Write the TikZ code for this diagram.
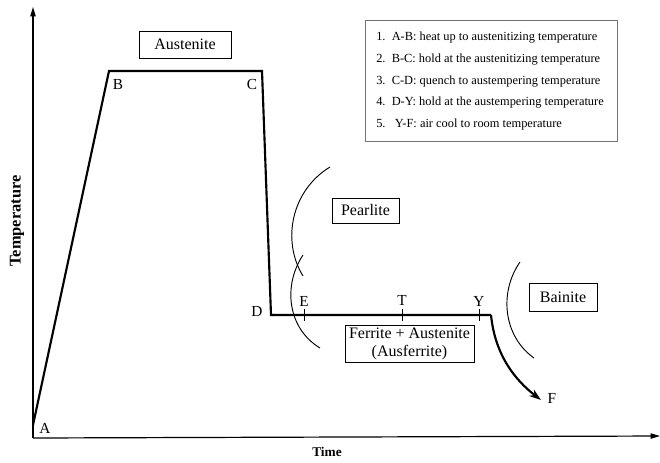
\documentclass[tikz,border=0pt]{standalone}
\usepackage{fontspec}
\setmainfont{Liberation Serif}
\usetikzlibrary{arrows.meta}
\begin{document}
\begin{tikzpicture}[x=0.75pt,y=-0.75pt,
  curve/.style={line width=1.6pt,line join=miter},
  axis/.style={line width=0.9pt,-{Triangle[length=7pt,width=4pt]}},
  arc/.style={line width=0.7pt},
  tick/.style={line width=0.5pt},
  phase/.style={draw,line width=0.6pt,font=\fontsize{12}{13.5}\selectfont,inner sep=0pt,align=center},
  pt/.style={font=\fontsize{11.5}{13}\selectfont,inner sep=0pt},
  legendline/.style={font=\fontsize{9.3}{11}\selectfont,anchor=west,inner sep=0pt}]
\useasboundingbox (0,0) rectangle (660,462);
% axes
\coordinate (O) at (33,438);
\coordinate (Ytop) at (33,7);
\coordinate (Xend) at (660,436);
\draw[axis] (O) -- (Ytop);
\draw[axis] (O) -- (Xend);
\node[font=\bfseries\fontsize{12.3}{14}\selectfont,rotate=90] (tlab) at (17,221) {Temperature};
\node[font=\bfseries\fontsize{10}{12}\selectfont] (timelab) at (327,452) {Time};
% path points
\coordinate (A) at (33,425);
\coordinate (B) at (109,71);
\coordinate (C) at (262,71);
\coordinate (D) at (271,315);
\coordinate (Yc) at (491,315);
\coordinate (F) at (541,400);
\draw[curve] (A) -- (B) -- (C) -- (D) -- (Yc);
\draw[line width=1.6pt,-{Stealth[length=9pt,width=6pt]}] (Yc) .. controls (495,355) and (515,380) .. (F);
% ticks
\coordinate (E) at (304,315);
\coordinate (T) at (402,315);
\coordinate (Y) at (479,315);
\foreach \p in {E,T,Y} \draw[tick] ([yshift=4.5pt]\p) -- ([yshift=-4.5pt]\p);
% point labels
\node[pt] (lA) at (45,428) {A};
\node[pt] (lB) at (118,84) {B};
\node[pt] (lC) at (252,84) {C};
\node[pt] (lD) at (257,311) {D};
\node[pt] (lE) at (304,301) {E};
\node[pt] (lT) at (402,300) {T};
\node[pt] (lY) at (479,301) {Y};
\node[pt] (lF) at (552,398) {F};
% phase boundaries
\draw[arc] (330,167) .. controls (292,190) and (281,240) .. (303,276);
\draw[arc] (303,255) .. controls (283,285) and (287,328) .. (320,348);
\draw[arc] (520,262) .. controls (499,292) and (503,336) .. (534,358);
% phase boxes
\node[phase,minimum width=69pt,minimum height=20.25pt] (aus) at (185,44.5) {Austenite};
\node[phase,minimum width=50.25pt,minimum height=18.75pt] (pear) at (365.5,210.5) {Pearlite};
\node[phase,minimum width=51pt,minimum height=21pt] (bain) at (563,297) {Bainite};
\node[phase,minimum width=96.75pt,minimum height=27.75pt] (ferr) at (409.5,343.5) {Ferrite + Austenite\\(Ausferrite)};
% legend
\node[draw=black!55,line width=0.6pt,minimum width=189pt,minimum height=90.75pt,inner sep=0pt] (leg) at (491,80.5) {};
\node[legendline] (l1) at (376,38) {1.\ \ A-B: heat up to austenitizing temperature};
\node[legendline] (l2) at (376,60) {2.\ \ B-C: hold at the austenitizing temperature};
\node[legendline] (l3) at (376,81.5) {3.\ \ C-D: quench to austempering temperature};
\node[legendline] (l4) at (376,103) {4.\ \ D-Y: hold at the austempering temperature};
\node[legendline] (l5) at (376,124.5) {5.\ \ \ Y-F: air cool to room temperature};
\end{tikzpicture}
\end{document}
